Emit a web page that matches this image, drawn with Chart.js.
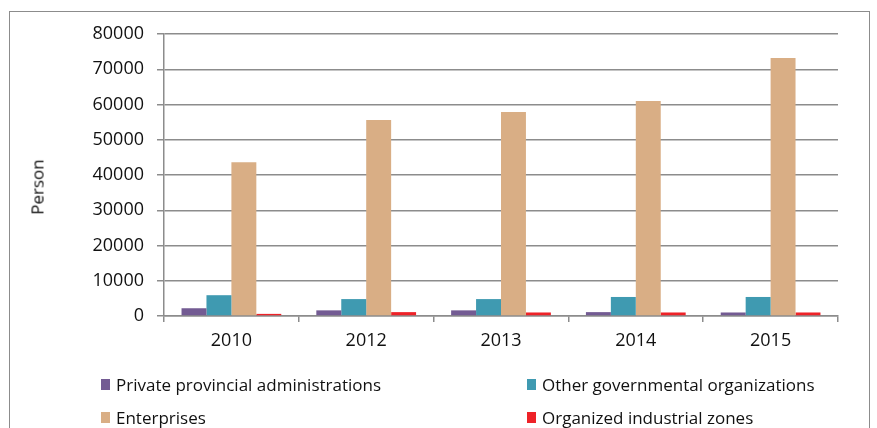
<!DOCTYPE html>
<html>
<head>
<meta charset="utf-8">
<script src="https://cdn.jsdelivr.net/npm/chart.js@4/dist/chart.umd.min.js"></script>
<style>
  html, body { margin: 0; padding: 0; background: #fff; }
  #wrap { position: relative; width: 877px; height: 428px; overflow: hidden; }
  #frame { position: absolute; left: 9px; top: 11px; width: 859px; height: 500px; border: 1px solid #8c8c8c; }
  #chart { position: absolute; left: 0; top: 0; }
  #ytitle {
    position: absolute; left: 37px; top: 187px;
    font: 17px "Open Sans", sans-serif; color: #111; white-space: nowrap;
    transform: translate(-50%, -50%) rotate(-90deg);
  }
  .lg { position: absolute; display: flex; align-items: center; white-space: nowrap; height: 20px;
        font: 17px "Open Sans", sans-serif; color: #111; }
  .lg i { display: inline-block; width: 9px; height: 11px; margin-right: 6px; }
</style>
</head>
<body>
<div id="wrap">
  <div id="frame"></div>
  <canvas id="chart" width="877" height="428"></canvas>
  <div id="ytitle">Person</div>
  <div id="legend"></div>
</div>
<script>
const years = ["2010", "2012", "2013", "2014", "2015"];
const seriesNames = [
  "Private provincial administrations",
  "Other governmental organizations",
  "Enterprises",
  "Organized industrial zones"
];
const privateProvincial = [2200, 1600, 1600, 1100, 1000];
const otherGovernmental = [5900, 4800, 4800, 5400, 5400];
const enterprises = [43600, 55600, 57900, 61000, 73200];
const industrialZones = [600, 1100, 1000, 1000, 1000];
const yMax = 80000;
const yStep = 10000;

const colors = ["#735b93", "#3f9ab1", "#d9ae85", "#ee2228"];
const values = [privateProvincial, otherGovernmental, enterprises, industrialZones];

const gridColor = "#8c8c8c";
const tickFont = { family: "'Open Sans', sans-serif", size: 18 };

const chart = new Chart(document.getElementById("chart"), {
  type: "bar",
  data: {
    labels: years,
    datasets: seriesNames.map((name, i) => ({
      label: name,
      data: values[i],
      backgroundColor: colors[i],
      borderWidth: 0,
      categoryPercentage: 0.74,
      barPercentage: 1.0
    }))
  },
  options: {
    responsive: false,
    animation: false,
    layout: { padding: { left: 0, top: 34, right: 39, bottom: 78 } },
    plugins: { legend: { display: false }, tooltip: { enabled: false } },
    scales: {
      x: {
        grid: { drawOnChartArea: false, color: gridColor, lineWidth: 1.5, tickLength: 6 },
        border: { color: gridColor, width: 1.5 },
        ticks: { color: "#111", font: tickFont, padding: 8 },
        afterFit: (axis) => { axis.height = 34; }
      },
      y: {
        min: 0,
        max: yMax,
        grid: { color: gridColor, lineWidth: 1.5, tickLength: 7 },
        border: { color: gridColor, width: 1.5 },
        ticks: { stepSize: yStep, color: "#111", font: tickFont, padding: 13, callback: (v) => String(v) },
        afterFit: (axis) => { axis.width = 164; }
      }
    }
  }
});

// two-column legend under the plot
const legendPos = [[101, 384], [527, 384], [101, 417], [527, 417]];
const legendEl = document.getElementById("legend");
chart.data.datasets.forEach((ds, i) => {
  const item = document.createElement("div");
  item.className = "lg";
  item.style.left = legendPos[i][0] + "px";
  item.style.top = (legendPos[i][1] - 10) + "px";
  item.innerHTML = '<i style="background:' + ds.backgroundColor + '"></i><span></span>';
  item.querySelector("span").textContent = ds.label;
  legendEl.appendChild(item);
});
</script>
</body>
</html>
